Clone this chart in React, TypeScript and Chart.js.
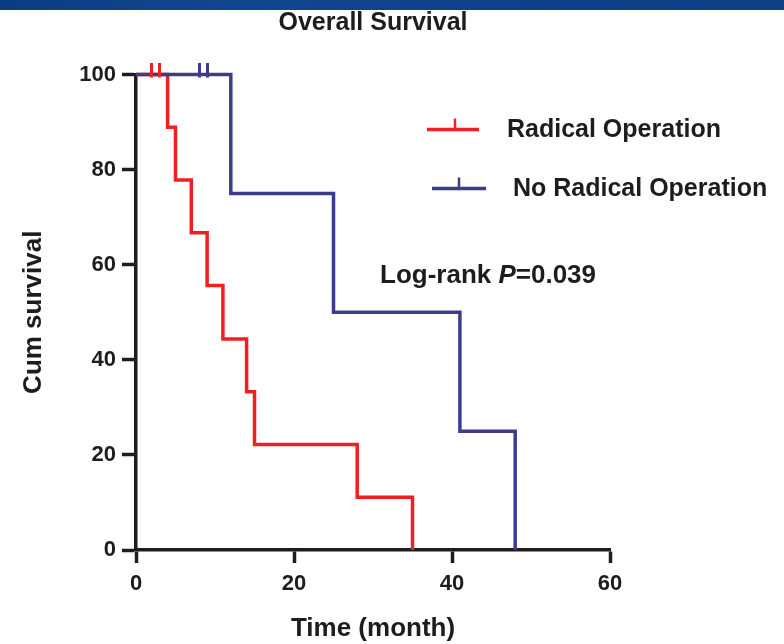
import { useEffect, useRef } from 'react';
import { Chart, registerables } from 'chart.js';

Chart.register(...registerables);

// ---- data ----
const chartTitle = 'Overall Survival';
const xAxisTitle = 'Time (month)';
const yAxisTitle = 'Cum survival';
const seriesLabels = ['Radical Operation', 'No Radical Operation'];

const radicalTimes = [0, 4, 5, 7, 9, 11, 14, 15, 28, 35];
const radicalSurvival = [100, 88.9, 77.8, 66.7, 55.6, 44.4, 33.3, 22.2, 11.1, 0];
const radicalCensorTimes = [2, 3];
const radicalCensorSurvival = [100, 100];

const noRadicalTimes = [0, 12, 25, 41, 48];
const noRadicalSurvival = [100, 75, 50, 25, 0];
const noRadicalCensorTimes = [8, 9];
const noRadicalCensorSurvival = [100, 100];

const xTicks = [0, 20, 40, 60];
const yTicks = [0, 20, 40, 60, 80, 100];
const pValueText = '0.039';

// ---- styles ----
const RED = '#ee2024';
const BLUE = '#3c3c8e';
const INK = '#1e1c1d';
const FONT = "'Liberation Sans', Arial, Helvetica, sans-serif";

function censorMark(color: string) {
  const c = document.createElement('canvas');
  c.width = 3;
  c.height = 24;
  const g = c.getContext('2d')!;
  g.fillStyle = color;
  g.fillRect(0, 0, 3, 15);
  return c;
}

function toPoints(xs: number[], ys: number[]) {
  return xs.map((x, i) => ({ x, y: ys[i] }));
}

const backgroundPlugin = {
  id: 'bgBand',
  beforeDraw(chart: any) {
    const { ctx, width, height } = chart;
    ctx.save();
    ctx.fillStyle = '#ffffff';
    ctx.fillRect(0, 0, width, height);
    const grad = ctx.createLinearGradient(0, 0, width, 0);
    grad.addColorStop(0, '#0b3b80');
    grad.addColorStop(0.3, '#114790');
    grad.addColorStop(0.6, '#0d428a');
    grad.addColorStop(1, '#0b3f86');
    ctx.fillStyle = grad;
    ctx.fillRect(0, 0, width, 10);
    ctx.restore();
  },
};

const annotationPlugin = {
  id: 'kmLegend',
  afterDraw(chart: any) {
    const { ctx } = chart;
    ctx.save();
    const items = [
      { label: seriesLabels[0], color: RED, x0: 427, x1: 479, tx: 455, y: 129.5, textX: 507 },
      { label: seriesLabels[1], color: BLUE, x0: 432, x1: 486, tx: 459, y: 188.5, textX: 513 },
    ];
    for (const it of items) {
      ctx.strokeStyle = it.color;
      ctx.lineWidth = 3.5;
      ctx.beginPath();
      ctx.moveTo(it.x0, it.y);
      ctx.lineTo(it.x1, it.y);
      ctx.stroke();
      ctx.lineWidth = 2.5;
      ctx.beginPath();
      ctx.moveTo(it.tx, it.y - 11);
      ctx.lineTo(it.tx, it.y);
      ctx.stroke();
      ctx.fillStyle = INK;
      ctx.font = `bold 25px ${FONT}`;
      ctx.textBaseline = 'middle';
      ctx.textAlign = 'left';
      ctx.fillText(it.label, it.textX, it.y + 1);
    }
    // Log-rank P
    let x = 380;
    const y = 275.5;
    ctx.fillStyle = INK;
    ctx.textBaseline = 'middle';
    ctx.font = `bold 26px ${FONT}`;
    const part1 = 'Log-rank ';
    ctx.fillText(part1, x, y);
    x += ctx.measureText(part1).width;
    ctx.font = `italic bold 26px ${FONT}`;
    ctx.fillText('P', x, y);
    x += ctx.measureText('P').width;
    ctx.font = `bold 26px ${FONT}`;
    ctx.fillText('=' + pValueText, x, y);
    ctx.restore();
  },
};

export default function App() {
  const ref = useRef<HTMLCanvasElement>(null);

  useEffect(() => {
    document.body.style.margin = '0';
    const canvas = ref.current!;
    const chart = new Chart(canvas, {
      type: 'line',
      data: {
        datasets: [
          {
            label: seriesLabels[1],
            data: toPoints(noRadicalTimes, noRadicalSurvival),
            borderColor: BLUE,
            borderWidth: 3.5,
            stepped: true,
            pointRadius: 0,
            fill: false,
            clip: false as any,
            order: 2,
          },
          {
            label: seriesLabels[0],
            data: toPoints(radicalTimes, radicalSurvival),
            borderColor: RED,
            borderWidth: 3.5,
            stepped: true,
            pointRadius: 0,
            fill: false,
            clip: false as any,
            order: 3,
          },
          {
            label: seriesLabels[1] + ' censored',
            data: toPoints(noRadicalCensorTimes, noRadicalCensorSurvival),
            showLine: false,
            pointStyle: censorMark(BLUE) as any,
            pointRadius: 3,
            clip: false as any,
            order: 0,
          },
          {
            label: seriesLabels[0] + ' censored',
            data: toPoints(radicalCensorTimes, radicalCensorSurvival),
            showLine: false,
            pointStyle: censorMark(RED) as any,
            pointRadius: 3,
            clip: false as any,
            order: 1,
          },
        ],
      },
      options: {
        responsive: false,
        animation: false,
        devicePixelRatio: 1,
        layout: { padding: { left: 0, right: 174, top: 0, bottom: 0 } },
        plugins: {
          legend: { display: false },
          tooltip: { enabled: false },
          title: {
            display: true,
            text: chartTitle,
            fullSize: false,
            color: INK,
            font: { family: FONT, size: 25, weight: 'bold', lineHeight: 1.2 },
            padding: { top: 8, bottom: 36.5 },
          },
        },
        scales: {
          x: {
            type: 'linear',
            min: 0,
            max: 60,
            afterBuildTicks: (s: any) => {
              s.ticks = xTicks.map((v) => ({ value: v }));
            },
            afterFit: (s: any) => {
              s.height = 94;
            },
            grid: {
              drawOnChartArea: false,
              drawTicks: true,
              tickLength: 13,
              tickWidth: 3.5,
              tickColor: INK,
              color: INK,
            },
            border: { display: true, color: INK, width: 3.5 },
            ticks: {
              color: INK,
              padding: 8,
              maxRotation: 0,
              font: { family: FONT, size: 22, weight: 'bold', lineHeight: 1.2 },
            },
            title: {
              display: true,
              text: xAxisTitle,
              color: INK,
              font: { family: FONT, size: 26, weight: 'bold', lineHeight: 1.2 },
              padding: { top: 0, bottom: 0 },
            },
          },
          y: {
            type: 'linear',
            min: 0,
            max: 100,
            afterBuildTicks: (s: any) => {
              s.ticks = yTicks.map((v) => ({ value: v }));
            },
            afterFit: (s: any) => {
              s.width = 136;
            },
            grid: {
              drawOnChartArea: false,
              drawTicks: true,
              tickLength: 14,
              tickWidth: 3.5,
              tickColor: INK,
              color: INK,
            },
            border: { display: true, color: INK, width: 3.5 },
            ticks: {
              color: INK,
              padding: 6,
              font: { family: FONT, size: 22, weight: 'bold', lineHeight: 1.2 },
            },
            title: {
              display: true,
              text: yAxisTitle,
              color: INK,
              font: { family: FONT, size: 26, weight: 'bold', lineHeight: 1.2 },
              padding: { top: 18.4, bottom: 0 },
            },
          },
        },
      },
      plugins: [backgroundPlugin, annotationPlugin],
    });
    return () => chart.destroy();
  }, []);

  return (
    <div style={{ width: 784, height: 644 }}>
      <canvas ref={ref} width={784} height={644} style={{ display: 'block' }} />
    </div>
  );
}
